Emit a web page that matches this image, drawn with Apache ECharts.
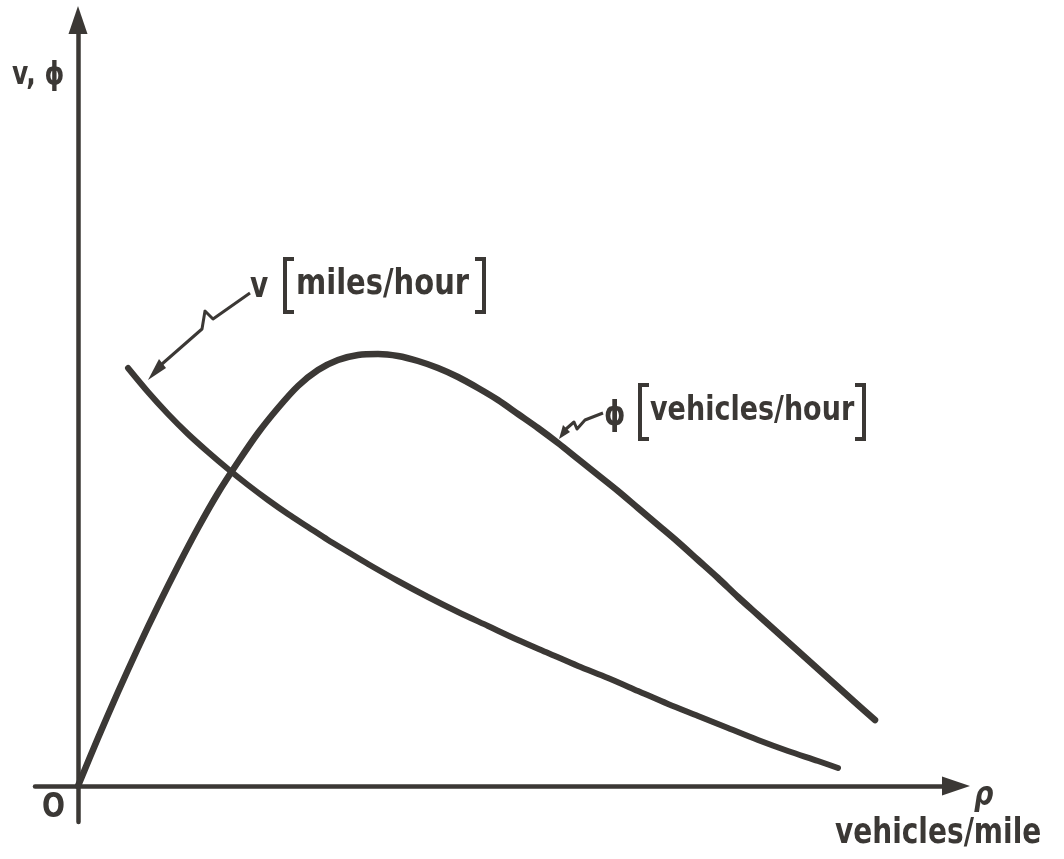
<!DOCTYPE html>
<html>
<head>
<meta charset="utf-8">
<style>
  html, body { margin: 0; padding: 0; background: #ffffff; }
  #chart { width: 1064px; height: 859px; }
</style>
<script src="https://cdn.jsdelivr.net/npm/echarts@6/dist/echarts.min.js"></script>
</head>
<body>
<div id="chart"></div>
<script>
// Traffic density ρ (vehicles/mile), arbitrary units along the axis
const densityPhi = [0, 2, 4, 6, 8, 10, 12, 14, 16, 18, 20, 22, 24, 26, 28, 30, 32, 34, 36, 38, 40, 42, 44, 46, 48, 50, 52, 54, 56, 58, 60, 62, 64, 66, 68, 70, 72, 74, 76, 78, 79.7];
// Flow φ (vehicles/hour) at each density
const flowPhi = [0, 4.8, 9.4, 13.8, 18.0, 22.0, 25.8, 29.3, 32.4, 35.3, 37.8, 40.0, 41.6, 42.6, 43.1, 43.2, 43.0, 42.5, 41.8, 40.9, 39.8, 38.6, 37.2, 35.8, 34.3, 32.7, 31.1, 29.5, 27.8, 26.1, 24.4, 22.6, 20.8, 18.9, 17.1, 15.3, 13.5, 11.7, 9.9, 8.1, 6.6];

const densityV = [5, 7, 9, 11, 13, 15, 17, 19, 21, 23, 25, 27, 29, 32, 35, 38, 41, 44, 47, 50, 53, 56, 59, 62, 65, 68, 71, 74, 76];
// Speed v (miles/hour) at each density
const speedV = [41.8, 39.4, 37.2, 35.2, 33.4, 31.7, 30.1, 28.6, 27.2, 25.9, 24.6, 23.4, 22.2, 20.5, 18.9, 17.4, 16.0, 14.6, 13.3, 12.0, 10.8, 9.5, 8.2, 7.0, 5.8, 4.6, 3.5, 2.5, 1.8];

// Text labels
const yAxisLabel = 'v, ϕ';
const xAxisSymbol = 'ρ';
const xAxisUnit = 'vehicles/mile';
const originLabel = 'O';
const vLabel = ['v', 'miles/hour'];
const phiLabel = ['ϕ', 'vehicles/hour'];

const ink = '#3b3835';
const font = (size, weight, style) =>
  (style || 'normal') + ' ' + (weight || 'bold') + ' ' + size + 'px "DejaVu Sans", sans-serif';

const chart = echarts.init(document.getElementById('chart'));

function pairs(xs, ys) { return xs.map((x, i) => [x, ys[i]]); }

function bracket(x, y1, y2, dir) {
  // dir = 1 for '[', -1 for ']'
  const w = 9 * dir;
  return {
    type: 'polyline',
    shape: { points: [[x + w, y1], [x, y1], [x, y2], [x + w, y2]] },
    style: { stroke: ink, lineWidth: 4, fill: null, lineJoin: 'miter' }
  };
}

// Hand-lettered labels are taller than the regular face, so stretch vertically
function text(str, x, y, f, sy) {
  return {
    type: 'text', x: x, y: y, scaleY: sy || 1.25,
    style: { text: str, font: f, fill: ink, align: 'left', verticalAlign: 'middle' }
  };
}

const option = {
  backgroundColor: '#ffffff',
  animation: false,
  grid: { left: 35, right: 108, top: 20, bottom: 37, containLabel: false },
  xAxis: {
    type: 'value', min: -4.3, max: 87.8,
    axisLine: { onZero: true, symbol: ['none', 'triangle'], symbolSize: [19, 28],
      lineStyle: { color: ink, width: 4.5 } },
    axisTick: { show: false }, axisLabel: { show: false }, splitLine: { show: false }
  },
  yAxis: {
    type: 'value', min: -3.6, max: 76.6,
    axisLine: { onZero: true, symbol: ['none', 'triangle'], symbolSize: [19, 28],
      lineStyle: { color: ink, width: 4.5 } },
    axisTick: { show: false }, axisLabel: { show: false }, splitLine: { show: false }
  },
  series: [
    {
      name: 'ϕ', type: 'line', data: pairs(densityPhi, flowPhi),
      smooth: 0.3, showSymbol: false, silent: true,
      lineStyle: { color: ink, width: 6.5, cap: 'round', join: 'round' }
    },
    {
      name: 'v', type: 'line', data: pairs(densityV, speedV),
      smooth: 0.3, showSymbol: false, silent: true,
      lineStyle: { color: ink, width: 6, cap: 'round', join: 'round' }
    }
  ],
  graphic: [
    text(yAxisLabel, 12, 76, font(25)),
    text(originLabel, 42, 808, font(27)),
    text(xAxisSymbol, 974, 796, font(27, 'bold', 'italic')),
    text(xAxisUnit, 835, 834, font(28)),

    // speed label with leader
    text(vLabel[0], 250, 288, font(28)),
    bracket(285, 259, 312, 1),
    text(vLabel[1], 296, 285, font(29)),
    bracket(484, 259, 312, -1),
    {
      type: 'polyline',
      shape: { points: [[250, 293], [213, 319], [205, 311], [202, 329], [162, 364]] },
      style: { stroke: ink, lineWidth: 3, fill: null, lineJoin: 'round' }
    },
    {
      type: 'polygon',
      shape: { points: [[148, 380], [166, 368], [159, 359]] },
      style: { fill: ink }
    },

    // flow label with leader
    text(phiLabel[0], 604, 416, font(27)),
    bracket(640, 385, 439, 1),
    text(phiLabel[1], 650, 411, font(27)),
    bracket(864, 385, 439, -1),
    {
      type: 'polyline',
      shape: { points: [[566, 429], [574, 422], [577, 429], [585, 420], [603, 413]] },
      style: { stroke: ink, lineWidth: 3, fill: null, lineJoin: 'round' }
    },
    {
      type: 'polygon',
      shape: { points: [[559, 439], [570, 432], [563, 425]] },
      style: { fill: ink }
    }
  ]
};

chart.setOption(option);
</script>
</body>
</html>
